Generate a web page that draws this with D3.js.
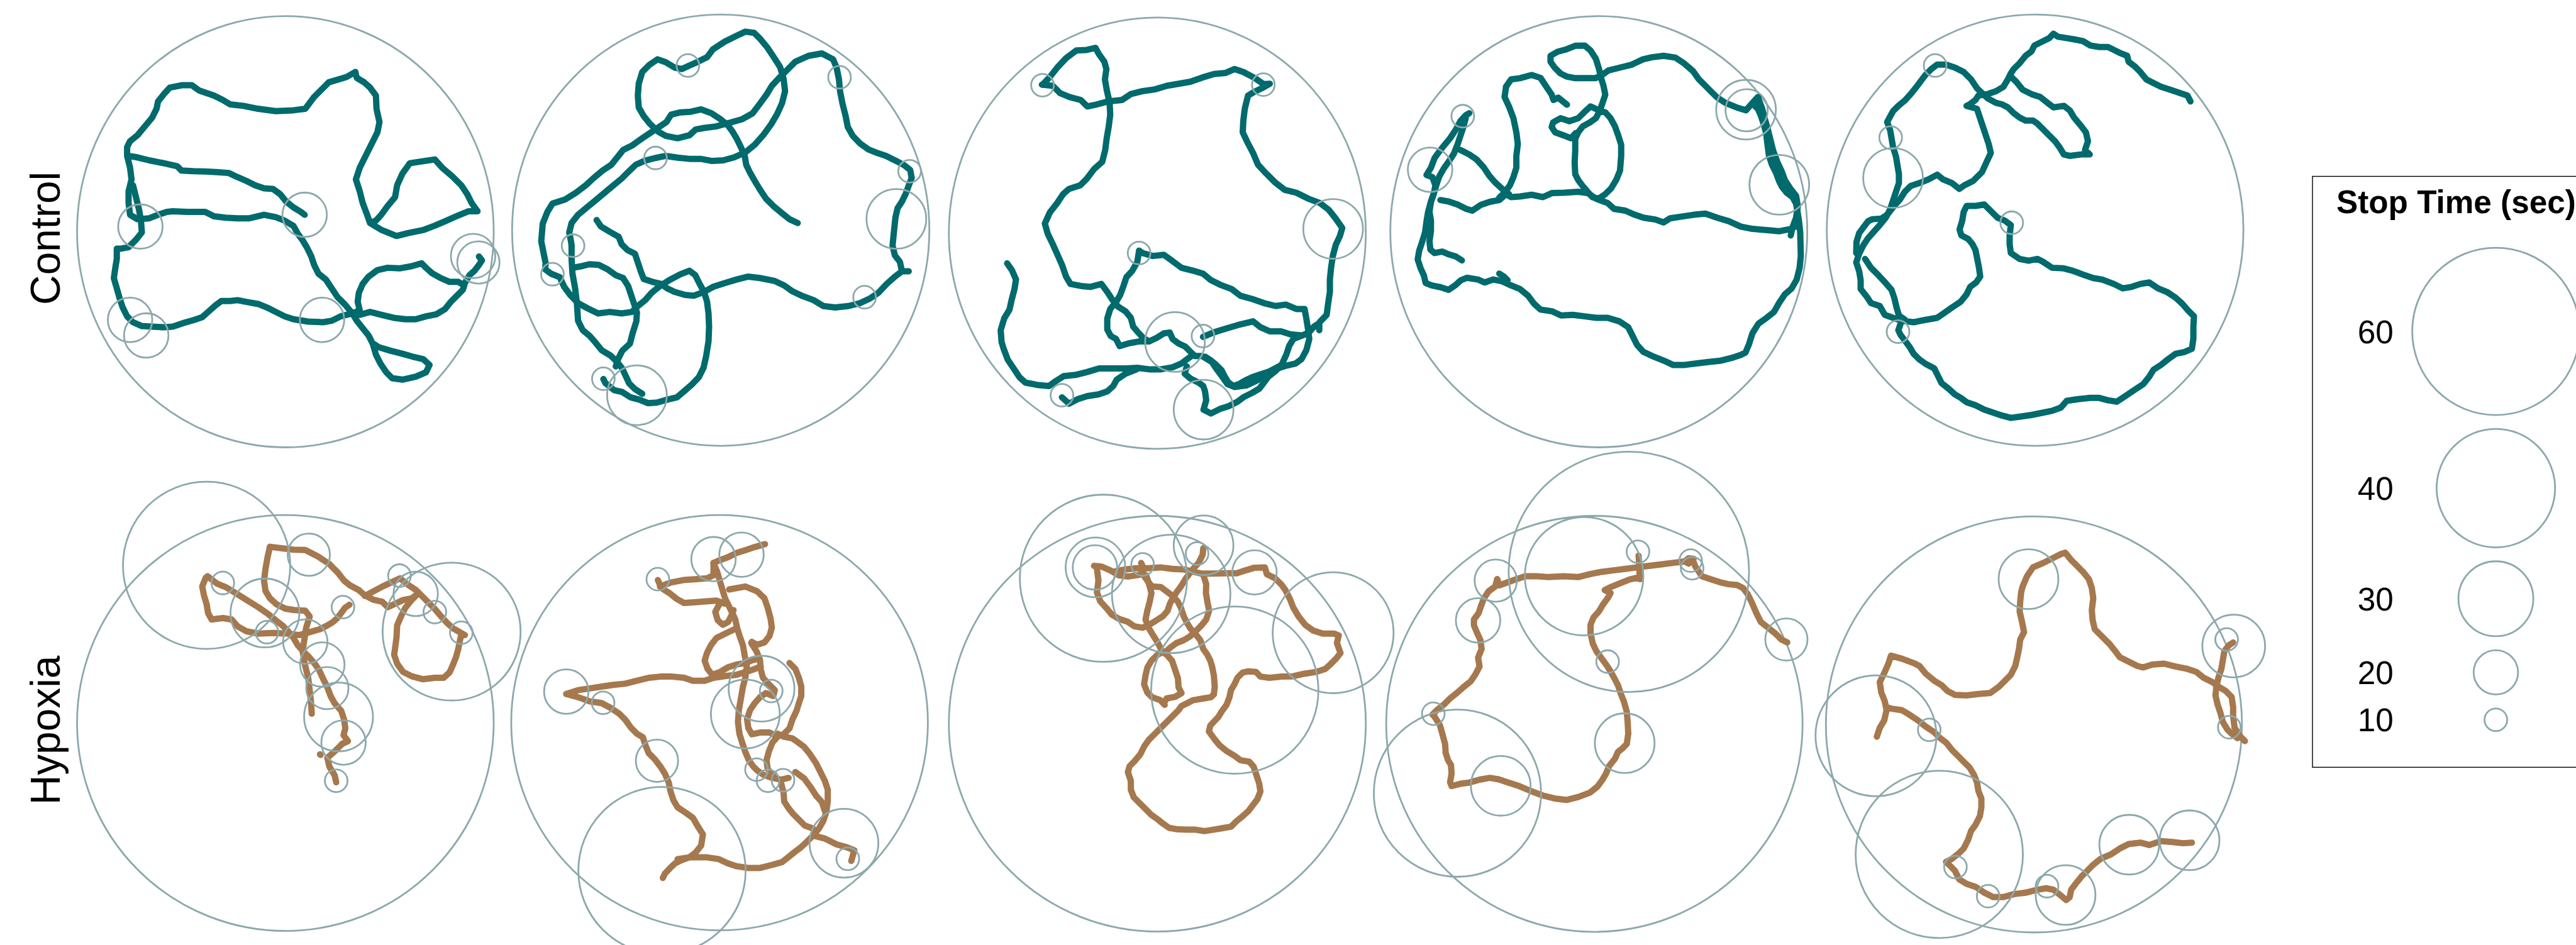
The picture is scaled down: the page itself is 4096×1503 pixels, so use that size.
<!DOCTYPE html>
<html>
<head>
<meta charset="utf-8">
<script src="https://cdn.jsdelivr.net/npm/d3@7"></script>
<style>
  html, body { margin: 0; padding: 0; background: #ffffff; }
  svg { display: block; }
</style>
</head>
<body>
<svg id="chart" width="4096" height="1503"></svg>
<script>
// ---------------------------------------------------------------------------
// Swimming tracks of ten fish in a circular arena, with stops marked as rings
// whose size encodes stop duration. Coordinates are tracking-frame pixels.
// Each track is a list of tracked runs (gaps = lost frames).
// ---------------------------------------------------------------------------

const groups = ["Control", "Hypoxia"];
const legendTitle = "Stop Time (sec)";
const legendBreaks = [60, 40, 30, 20, 10];

// arena outline per fish: [centre x, centre y, radius x, radius y]
const controlArenas = [
  [732.5, 757.5, 707.5, 732.5], [746.5, 752.5, 708.5, 732.5], [750, 762.5, 708, 732.5],
  [770, 757.5, 708, 732.5], [772.5, 752.5, 707.5, 732.5]
];
const hypoxiaArenas = [
  [732.5, 843.5, 707.5, 706.5], [742.5, 842.5, 707.5, 705.5], [750, 846, 708, 706],
  [755, 846.5, 707, 706.5], [768.5, 848.5, 706.5, 706.5]
];

// stops: [x, y, duration in seconds]
const controlStops = [
  [[240,740,20],[798,700,20],[1370,840,20],[1388,862,19],[205,1057,20],[260,1110,20],[857,1057,20]],
  [[635,193,10],[1150,233,10],[525,507,10],[1388,552,10],[1343,714,25],[245,805,10],[175,902,10],[1235,980,10],[348,1257,10],[462,1313,25]],
  [[360,260,10],[1110,258,10],[1347,748,25],[688,830,10],[810,1132,25],[905,1112,10],[426,1313,10],[907,1362,25]],
  [[308,365,10],[197,547,20],[1270,343,25],[1272,345,19],[1383,598,25]],
  [[433,193,10],[282,438,10],[290,575,25],[693,727,10],[307,1097,10]]
];
const hypoxiaStops = [
  [[465,308,60],[812,272,19],[520,368,10],[663,470,28],[670,535,10],[800,567,20],[858,645,20],[875,725,19],[913,823,28],[930,910,20],[905,1040,10],[928,450,10],[1120,343,10],[1175,405,20],[1240,467,10],[1330,537,10],[1297,533,48]],
  [[533,355,10],[722,287,20],[817,272,20],[222,737,20],[347,775,10],[530,972,19],[547,1345,60],[885,727,27],[830,813,28],[918,735,10],[868,1002,10],[907,1040,10],[958,1038,10],[1165,1252,28],[1178,1305,10]],
  [[567,352,60],[540,315,25],[538,315,20],[700,305,10],[797,405,40],[907,240,25],[885,268,10],[1080,332,20],[1013,732,60],[1347,537,41]],
  [[872,330,90],[720,345,40],[903,262,10],[1082,292,10],[1087,318,10],[420,360,19],[360,495,20],[1407,560,19],[800,635,10],[208,812,10],[290,1082,60],[437,1057,25],[858,912,25]],
  [[750,355,25],[1447,582,26],[1423,560,10],[1432,858,10],[232,887,41],[413,867,10],[447,1290,60],[502,1333,10],[613,1432,10],[813,1398,10],[876,1428,25],[1092,1257,25],[1297,1242,25]]
];

// ---- control tracks ----
const trackC1 = [
  [[970,215],[940,232],[880,250],[860,270],[830,300],[800,340],[760,345],[700,348],[640,340],[590,330],[545,325],[520,310],[490,295],[440,278],[415,260],[380,260],[340,268],[320,290],[300,315],[295,340],[280,370],[255,400],[230,430],[205,450],[195,470],[195,500],[205,540],[210,580],[200,620],[200,660],[205,700],[230,715],[270,712],[300,700],[330,690],[350,688],[400,690],[460,690],[490,705],[530,710],[570,712],[610,712],[640,705],[660,700],[700,708],[730,720],[760,738],[775,765],[790,785],[805,810],[820,840],[830,870],[845,900],[870,920],[890,950],[910,980],[935,1005],[960,1035]],
  [[200,500],[230,505],[270,515],[320,525],[365,535],[380,550],[420,552],[460,553],[500,555],[540,558],[570,572],[600,585],[630,600],[660,610],[690,612],[715,630],[735,655],[760,675],[785,690],[798,700]],
  [[215,600],[225,640],[235,680],[242,720],[245,760],[225,785],[200,810],[175,815],[160,815],[160,850],[155,880],[150,915],[160,950],[170,985],[180,1015],[195,1045],[215,1065],[245,1078],[280,1080],[320,1082],[350,1080],[385,1068],[420,1058],[450,1048],[470,1030],[495,1008],[515,993],[545,993],[570,990],[600,996],[640,1003],[670,1015],[700,1030],[730,1045],[760,1055],[810,1063],[860,1065],[890,1060],[920,1045],[960,1035]],
  [[960,1035],[975,1060],[995,1085],[1015,1110],[1030,1140],[1040,1175],[1055,1205],[1075,1235],[1095,1255],[1130,1260],[1175,1250],[1210,1235],[1222,1210],[1200,1190],[1165,1182],[1130,1172],[1090,1162],[1050,1150],[1035,1140]],
  [[960,1035],[985,1040],[1020,1030],[1060,1040],[1100,1050],[1140,1055],[1175,1055],[1210,1045],[1245,1038],[1275,1020],[1295,995],[1315,975],[1335,955],[1340,940],[1320,928],[1290,928],[1260,915],[1230,898],[1210,880],[1195,865],[1160,875],[1120,882],[1080,880],[1045,888],[1015,910],[995,935],[982,965],[978,995],[985,1025],[960,1035]],
  [[1340,935],[1358,905],[1375,890],[1390,870],[1400,855],[1390,842]],
  [[970,215],[975,235],[1000,250],[1020,268],[1040,295],[1042,340],[1052,385],[1045,420],[1025,460],[1005,500],[985,540],[972,580],[985,620],[995,660],[1010,700],[1020,728],[1060,752],[1110,772],[1150,762],[1200,752],[1240,737],[1280,720],[1320,702],[1355,688],[1385,688],[1365,660],[1350,630],[1330,600],[1300,570],[1265,540],[1240,512],[1200,518],[1155,525],[1130,560],[1112,600],[1105,640],[1080,670],[1058,700],[1040,720],[1020,728]]
];
const trackC2 = [
  [[1008,728],[980,715],[955,695],[925,670],[900,645],[880,615],[862,585],[845,555],[833,530],[828,500],[815,470],[800,440],[785,415],[770,395],[745,375],[715,355],[680,342],[645,350],[610,352],[578,360],[562,385],[540,400],[510,420],[480,440],[445,465],[415,480],[395,505],[375,530],[345,550],[315,575],[288,600],[255,625],[218,648],[175,662],[158,690],[142,730],[137,790],[145,830],[152,865],[150,885],[170,900],[200,912],[215,945],[235,972],[262,1000],[295,1018],[330,1035],[370,1030],[410,1035],[445,1030],[465,1010],[490,990],[512,965],[540,942],[572,922],[610,902],[640,890],[660,905],[675,935],[690,962],[720,945],[760,932],[800,920],[840,910],[880,915],[930,925],[962,940],[990,960],[1022,975],[1062,990],[1095,1010],[1135,1015],[1180,1010],[1220,1000],[1252,985],[1282,965],[1310,935],[1338,910],[1362,892],[1385,892]],
  [[1362,892],[1355,860],[1338,838],[1330,805],[1335,755],[1340,708],[1347,678],[1362,655],[1375,628],[1386,598],[1395,575],[1390,548],[1370,532],[1340,516],[1308,500],[1278,490],[1248,478],[1220,458],[1195,432],[1178,402],[1170,362],[1160,322],[1152,282],[1148,240],[1140,200],[1128,172],[1090,152],[1045,160],[1000,180],[970,210],[945,235],[920,262],[902,292],[880,322],[855,355],[820,375],[775,388],[730,400],[690,405],[662,410],[640,430],[600,440],[560,432],[535,418],[505,390],[485,365],[468,335],[465,295],[468,255],[480,215],[505,190],[532,172],[560,182],[590,200],[615,205],[640,193],[665,182],[700,165],[720,138],[760,112],[800,92],[830,78],[860,82],[880,102],[905,132],[925,162],[948,198],[960,238],[965,280],[955,320],[938,358],[918,392],[892,428],[862,462],[830,488],[792,505],[755,515],[715,517],[678,510],[640,510],[600,506],[560,500],[525,507],[490,516],[458,530],[435,552],[410,577],[380,602],[350,627],[320,652],[292,675],[262,700],[240,728],[232,760],[238,790],[240,805]],
  [[325,718],[340,740],[370,758],[400,775],[410,800],[430,820],[455,832],[465,862],[475,892],[485,918],[515,928],[545,935],[565,950],[590,962],[625,972],[655,975],[690,962],[700,995],[705,1035],[707,1080],[705,1130],[697,1180],[688,1220],[672,1252],[648,1277],[625,1297],[598,1320],[565,1328],[530,1338],[500,1340],[470,1328],[440,1320],[412,1302],[385,1296],[355,1272],[348,1258]],
  [[240,805],[240,850],[243,900],[252,950],[258,1000],[262,1060],[278,1092],[302,1112],[322,1135],[342,1160],[372,1178],[395,1200],[412,1222],[425,1250],[435,1272],[455,1292],[480,1308]],
  [[245,880],[272,875],[300,868],[332,870],[362,885],[390,905],[415,915],[432,942],[442,972],[452,1002],[462,1032],[460,1062],[448,1100],[438,1138],[412,1162],[398,1190],[390,1215]]
];
const trackC3 = [
  [[360,258],[385,232],[410,200],[440,168],[475,142],[510,140],[540,133],[552,155],[570,180],[577,205],[572,240],[578,275],[588,320],[590,360],[585,400],[578,440],[573,480],[563,520],[535,545],[510,578],[488,600],[450,612],[430,630],[410,660],[385,692],[368,730],[378,765],[395,800],[412,838],[427,872],[440,910],[455,935],[492,942],[522,945],[560,935],[580,962],[597,988],[617,1012],[642,1028],[660,1050],[668,1080],[685,1100],[702,1118],[722,1130],[748,1118],[772,1103],[792,1100],[802,1122],[822,1137],[845,1148],[862,1165],[878,1180],[902,1180],[935,1200],[952,1225],[972,1252],[988,1275],[1012,1285],[1052,1280],[1090,1262],[1115,1242],[1142,1226],[1172,1210],[1188,1175],[1198,1145],[1212,1122],[1242,1110],[1265,1100],[1282,1080],[1300,1068],[1300,1092]],
  [[358,258],[395,262],[420,287],[452,300],[490,310],[512,332],[545,325],[582,315],[630,310],[660,290],[700,280],[742,274],[782,262],[822,255],[862,248],[902,234],[942,222],[982,218],[1012,205],[1042,215],[1080,235],[1110,256],[1132,255],[1105,270],[1080,282],[1058,295],[1047,340],[1042,380],[1040,420],[1055,452],[1075,490],[1092,530],[1120,560],[1150,590],[1182,615],[1222,625],[1262,645],[1302,660],[1332,683],[1355,712],[1378,745],[1370,772],[1356,802],[1346,840],[1340,880],[1336,920],[1336,962],[1330,1002],[1325,1040],[1302,1064]],
  [[688,822],[700,830],[735,840],[772,836],[800,856],[832,880],[872,890],[905,900],[932,922],[962,937],[1002,952],[1032,975],[1072,986],[1112,1000],[1152,1010],[1186,1005],[1222,1020],[1250,1020],[1256,1052],[1262,1090],[1266,1122],[1256,1160],[1240,1190],[1220,1205],[1190,1212],[1158,1222],[1128,1233],[1098,1243],[1072,1252],[1050,1262],[1028,1275],[1008,1282],[990,1268],[978,1248],[968,1228],[948,1208],[928,1192],[912,1182]],
  [[688,822],[682,860],[665,890],[645,912],[635,942],[624,972],[610,996],[590,1020],[580,1052],[580,1090],[592,1112],[610,1122],[622,1146],[652,1137],[690,1130],[722,1130]],
  [[905,1115],[940,1100],[982,1087],[1022,1075],[1075,1062],[1100,1082],[1132,1096],[1170,1096],[1202,1106],[1240,1110]],
  [[240,865],[256,888],[270,920],[265,952],[255,990],[248,1022],[230,1052],[218,1092],[221,1132],[228,1155],[242,1192],[262,1222],[282,1252],[302,1270],[342,1278],[382,1282],[405,1265],[432,1248],[472,1244],[512,1234],[552,1222],[600,1222],[642,1222],[682,1220],[722,1225],[762,1225],[802,1218],[832,1205],[852,1190],[872,1175]],
  [[426,1320],[450,1342],[480,1326],[512,1316],[550,1310],[580,1300],[600,1282],[612,1260],[642,1240],[680,1225]],
  [[907,1362],[932,1375],[962,1360],[992,1350],[1022,1335],[1042,1320],[1072,1305],[1097,1290],[1112,1270],[1127,1250],[1152,1230],[1172,1210]],
  [[907,1362],[916,1330],[912,1300],[906,1282],[890,1270],[862,1256],[843,1240],[850,1215]]
];
const trackC4 = [
  [[305,855],[285,842],[262,835],[238,825],[212,830],[198,818],[195,790],[200,755],[200,720],[195,690],[200,655],[210,628],[215,600],[205,572],[185,565],[200,540],[212,508],[226,488],[242,468],[265,440],[285,410],[300,382],[318,362],[330,355]],
  [[318,372],[310,402],[300,432],[290,462],[278,492],[262,517],[244,542],[228,570],[218,600],[208,632],[198,662],[190,692],[185,722],[180,760],[170,792],[160,822],[155,852],[165,882],[176,906],[182,932],[202,940],[232,946],[260,955],[282,940],[302,922],[322,914],[360,920],[382,930],[412,920],[442,926],[472,940],[502,952],[530,975],[550,1002],[572,1022],[612,1028],[642,1042],[682,1040],[722,1045],[762,1050],[800,1050],[840,1062],[870,1082],[885,1112],[900,1142],[922,1166],[952,1180],[992,1196],[1022,1210],[1062,1210],[1102,1205],[1142,1200],[1182,1196],[1222,1186],[1252,1176],[1268,1168],[1280,1140],[1292,1102],[1312,1070],[1340,1050],[1365,1030],[1382,1000],[1402,970],[1425,950],[1442,920],[1452,880],[1456,840],[1455,800],[1454,760],[1450,722],[1445,690],[1440,662],[1428,640],[1408,625],[1392,605],[1382,585],[1372,558],[1358,530],[1348,500],[1343,462],[1338,422],[1330,392],[1320,362],[1310,340],[1300,330],[1312,302]],
  [[1312,305],[1325,340],[1333,372],[1342,402],[1352,442],[1362,482],[1376,520],[1390,550],[1402,582],[1420,610],[1440,636],[1446,670],[1440,710],[1427,745],[1422,770]],
  [[232,650],[260,655],[290,665],[320,680],[340,686],[370,666],[400,656],[432,650],[455,630],[472,640],[502,638],[542,632],[580,640],[612,626],[652,625],[700,622],[732,626],[762,646],[800,660],[822,680],[860,686],[892,700],[922,710],[962,716],[990,726],[1012,712],[1052,706],[1092,700],[1132,696],[1172,710],[1212,722],[1252,740],[1292,748],[1342,752],[1382,756],[1422,748],[1442,738]],
  [[1310,300],[1290,322],[1270,345],[1240,336],[1200,320],[1170,300],[1150,280],[1130,260],[1110,240],[1090,212],[1060,186],[1030,166],[990,160],[950,165],[920,172],[882,190],[842,200],[802,210],[780,226],[758,236],[720,236],[690,236],[660,230],[640,220],[620,200],[606,180],[606,160],[630,146],[660,138],[690,126],[722,125],[742,142],[760,170],[770,202],[778,236],[786,262],[792,292],[782,322],[772,350],[760,372],[740,386],[715,400],[700,420],[690,442],[690,482],[688,522],[690,562],[700,582],[715,602],[732,622],[748,640],[770,645],[792,630],[812,610],[830,580],[842,550],[846,500],[846,462],[836,430],[825,400],[810,372],[792,352],[770,345],[742,332],[720,352],[700,372],[670,382],[640,372],[615,386],[610,402],[622,420],[650,430],[675,440],[692,422]],
  [[455,265],[472,240],[502,236],[542,225],[572,235],[592,265],[610,292],[616,310],[632,302],[662,326]],
  [[455,265],[450,300],[465,332],[480,372],[490,420],[495,460],[490,500],[490,540],[480,572],[468,600],[450,625],[432,642]],
  [[300,480],[330,495],[355,512],[380,540],[400,570],[420,592],[445,615],[465,630]],
  [[432,900],[448,910],[460,922]]
];
const trackC5 = [
  [[1300,315],[1290,295],[1260,285],[1230,275],[1200,265],[1170,250],[1150,240],[1130,215],[1110,195],[1090,180],[1085,160],[1060,150],[1040,140],[1020,130],[990,130],[960,125],[935,110],[910,105],[880,100],[850,95],[835,85],[820,100],[800,110],[770,125],[760,145],[740,160],[720,185],[700,205],[690,220],[680,240],[665,265],[640,280],[610,290],[580,295],[570,310],[550,325],[540,330]],
  [[690,230],[710,250],[730,275],[760,290],[790,300],[815,320],[835,335],[870,330],[890,345],[905,370],[930,400],[945,420],[952,450],[942,480],[958,495],[930,495],[890,500],[870,495],[855,470],[840,450],[820,430],[800,410],[780,390],[765,380],[740,380],[720,370],[700,355],[680,335],[660,325],[640,320],[612,305],[596,290],[575,270],[555,240],[530,215],[500,200],[470,190],[440,190],[420,205],[400,225],[385,245],[370,265],[350,290],[330,312],[308,330],[290,348],[278,370],[270,385],[280,412],[285,440],[290,470],[300,502],[305,532],[310,562],[310,592],[300,622],[290,652],[280,682],[265,710],[245,735],[225,757],[205,780],[190,802],[175,832],[165,862],[175,892],[180,922],[180,952],[200,977],[215,1000],[245,1010],[262,1040],[290,1050],[320,1060],[360,1065],[400,1057],[440,1050],[462,1035],[490,1015],[520,995],[540,970],[552,945],[572,930],[586,910],[582,880],[576,850],[570,820],[560,800],[545,782],[522,770],[516,750],[525,720],[530,690],[540,670],[570,670],[600,665],[625,690],[645,710],[670,720],[690,735],[686,770],[686,800],[690,830],[720,850],[750,856],[780,850],[800,860],[830,880],[870,882],[900,890],[940,905],[970,915],[1000,920],[1040,935],[1070,950],[1100,945],[1130,935],[1160,930],[1190,950],[1220,962],[1250,982],[1272,1002],[1292,1025],[1312,1045],[1310,1080],[1310,1120],[1305,1155],[1280,1166],[1250,1172],[1225,1190],[1200,1210],[1175,1226],[1160,1250],[1140,1275],[1110,1295],[1080,1315],[1050,1335],[1020,1330],[990,1322],[960,1322],[920,1326],[880,1332],[860,1355],[830,1366],[800,1372],[760,1380],[720,1386],[690,1390],[660,1382],[630,1372],[600,1362],[570,1347],[540,1337],[520,1322],[500,1310],[480,1292],[455,1272],[440,1242],[430,1222],[400,1206],[380,1192],[360,1172],[345,1147],[330,1127],[315,1107],[308,1092],[315,1072]],
  [[540,330],[575,340],[585,370],[595,400],[605,430],[615,460],[622,490],[608,520],[592,555],[562,585],[532,600],[515,612],[490,592],[460,580],[440,564],[410,580],[380,592],[350,602],[330,622],[312,650],[292,672],[270,700],[250,713],[220,715],[205,722],[190,742],[175,762],[166,792],[165,830]],
  [[195,850],[215,880],[240,905],[265,932],[285,955],[295,985],[302,1015],[310,1042],[330,1056]]
];

// ---- hypoxia tracks ----
const trackH1 = [
  [[468,345],[500,370],[530,382],[560,400],[600,425],[640,450],[672,472],[700,495],[722,512],[742,532],[760,555],[775,580],[795,602],[815,622],[832,642],[846,662],[860,692],[875,722],[886,752],[900,777],[922,802],[932,832],[936,862],[930,885],[945,905],[925,915]],
  [[462,350],[450,380],[456,410],[465,440],[470,470],[482,492],[520,487],[550,492],[570,515],[600,532],[640,540],[690,538],[740,540],[780,545],[815,535],[850,525],[872,514],[892,502],[908,488],[922,470],[935,452],[950,442]],
  [[680,245],[672,280],[665,320],[660,360],[665,395],[680,420],[702,440],[732,455],[762,460],[800,462],[815,482],[803,520],[797,560],[791,600],[800,650],[810,690],[816,740],[820,780],[822,812]],
  [[680,245],[720,250],[760,255],[800,256],[840,276],[880,302],[910,332],[932,360],[952,376],[982,392],[1002,410],[1032,425],[1062,432],[1080,450],[1102,440],[1132,426],[1162,420],[1185,402]],
  [[1002,412],[1032,396],[1062,380],[1092,366],[1122,352],[1146,372],[1176,392],[1196,412],[1216,432],[1240,456],[1260,480],[1280,502],[1302,522],[1330,538],[1342,545]],
  [[1182,405],[1160,427],[1140,452],[1125,482],[1112,512],[1110,552],[1105,590],[1102,612],[1112,642],[1132,670],[1162,685],[1200,695],[1240,690],[1270,690],[1290,672],[1302,645],[1312,620],[1320,590],[1326,560],[1330,545]],
  [[925,915],[900,940],[875,962],[882,992],[900,1022],[905,1045]],
  [[850,950],[852,952]]
];
const trackH2 = [
  [[533,358],[545,385],[572,402],[597,422],[622,436],[662,433],[702,430],[732,428],[760,438]],
  [[540,380],[578,366],[620,358],[660,355],[700,352],[722,342],[722,300],[745,290],[772,280],[800,266],[832,256],[862,246],[897,236]],
  [[722,300],[735,332],[745,366],[755,400],[762,422],[772,442],[786,470],[796,492],[802,520],[810,546],[822,580],[828,615],[835,650],[830,690],[822,720],[815,760],[808,800],[805,840],[810,880],[820,912],[830,942],[842,970],[856,990],[872,1006],[892,1020],[922,1030],[952,1036],[977,1030]],
  [[742,440],[728,466],[736,494],[754,510],[772,500],[782,480],[790,460]],
  [[775,390],[830,380],[870,396],[895,420],[906,452],[916,490],[920,520],[912,548],[895,570],[870,578],[852,568]],
  [[800,522],[762,540],[732,555],[714,578],[700,605],[692,632],[702,660],[718,680],[745,670],[770,655],[800,645],[830,640],[855,630],[878,625]],
  [[222,745],[262,732],[302,726],[342,720],[382,714],[422,710],[462,700],[502,690],[542,686],[582,686],[622,690],[652,700],[692,700],[722,690],[762,684],[800,680],[832,670],[862,660],[882,652]],
  [[222,745],[262,756],[302,770],[342,776],[372,792],[402,812],[422,832],[442,860],[462,880],[482,892],[492,922],[502,946],[522,966],[542,992],[557,1016],[570,1046],[576,1076],[586,1106],[600,1130],[630,1150],[652,1166],[667,1192],[686,1222],[680,1260],[660,1285],[640,1300],[612,1310],[592,1320],[575,1336],[557,1355],[550,1370]],
  [[600,1306],[640,1300],[700,1300],[740,1306],[770,1320],[800,1330],[840,1336],[880,1336],[920,1326],[955,1316],[980,1296],[1000,1280],[1020,1265],[1040,1246],[1060,1226],[1080,1202],[1095,1176],[1105,1146],[1110,1110],[1110,1070],[1100,1040],[1085,1010],[1070,980],[1050,950],[1030,925],[1010,910],[990,896],[960,890],[940,880]],
  [[1060,1226],[1100,1236],[1140,1256],[1175,1266],[1200,1276],[1190,1312]],
  [[850,572],[868,600],[880,630],[882,660],[890,690],[910,712],[930,732],[925,752],[900,742],[880,756],[862,776],[846,800],[836,830],[840,860],[852,882],[880,876],[912,876],[940,890],[922,910],[910,940],[902,970],[906,1000],[930,1030]],
  [[980,640],[1000,660],[1012,690],[1020,720],[1020,752],[1010,782],[1004,802],[990,832],[980,862],[960,882]],
  [[1000,1010],[1030,1032],[1052,1062],[1070,1090],[1090,1112],[1100,1142]],
  [[952,1050],[960,1080],[962,1110],[976,1132],[992,1152],[1012,1172],[1032,1192],[1060,1202]]
];
const trackH3 = [
  [[535,310],[560,312],[590,325],[620,342],[652,346],[690,340],[705,322],[695,300]],
  [[600,330],[640,322],[680,318],[720,318],[760,315],[800,320],[840,322],[872,330],[900,336],[940,336],[980,335],[1020,335],[1050,325],[1080,316],[1115,315],[1122,338],[1150,352],[1170,372],[1185,392],[1200,422],[1212,452],[1230,482],[1252,510],[1280,530],[1312,540],[1350,540],[1366,546],[1360,572],[1372,606],[1356,626],[1336,646],[1320,660],[1290,670],[1250,676],[1210,685],[1170,686],[1130,690],[1100,686],[1085,670],[1060,668],[1040,672],[1022,690],[1012,712],[1000,732],[995,756],[985,782],[970,802],[958,822],[944,837],[930,852],[925,872],[935,886],[947,902],[962,920],[987,940],[1012,955],[1032,970],[1062,975],[1077,992],[1087,1022],[1096,1050],[1100,1076],[1090,1102],[1075,1122],[1060,1142],[1040,1160],[1020,1176],[1000,1196],[970,1201],[940,1206],[910,1211],[880,1206],[850,1206],[820,1205],[790,1200],[770,1186],[750,1170],[730,1156],[710,1136],[690,1116],[670,1096],[660,1070],[660,1040],[650,1010],[656,990],[672,974],[692,950],[706,922],[722,900],[742,880],[762,860],[782,840],[802,820],[822,800],[832,786],[852,776],[872,766],[902,761],[932,756],[942,746]],
  [[942,746],[945,720],[942,682],[936,652],[930,632],[920,612],[906,592],[896,562],[880,542],[862,522],[850,502],[840,482],[830,452],[820,432],[802,412],[782,397],[762,382],[732,380],[716,360],[702,340]],
  [[545,320],[550,360],[545,400],[556,430],[576,452],[596,476],[620,490],[650,500],[672,515],[700,520],[722,510],[745,496],[770,480],[785,462],[792,440],[802,420],[815,400],[830,380],[847,352],[870,322],[890,300],[904,272],[906,250]],
  [[712,342],[722,372],[730,402],[724,432],[716,462],[710,492],[720,520],[736,546],[752,572],[766,600],[782,612],[800,632],[810,662],[820,692],[822,722],[832,742],[810,755],[782,760],[772,776]],
  [[770,602],[750,612],[730,632],[716,656],[710,682],[705,712],[716,740],[732,756],[760,766],[775,782]],
  [[906,340],[916,372],[915,402],[920,432],[926,462],[916,492],[900,512],[880,532],[860,550],[840,562],[815,572],[796,586],[780,600]]
];
const trackH4 = [
  [[425,355],[432,376],[460,366],[490,355],[520,345],[560,345],[600,348],[650,345],[700,348],[740,338],[780,330],[820,325],[860,320],[900,315],[940,310],[980,305],[1020,300],[1060,295],[1090,292],[1098,312],[1120,345],[1150,355],[1180,365],[1210,372],[1240,375],[1260,385],[1275,405],[1290,435],[1305,470],[1320,500],[1345,520],[1370,540],[1390,560],[1410,570]],
  [[425,355],[418,380],[396,396],[380,420],[370,446],[362,470],[346,492],[346,512],[356,536],[368,562],[372,592],[360,622],[365,652],[350,680],[335,702],[310,722],[290,740],[265,760],[245,780],[220,800],[205,815],[212,822],[230,850],[240,885],[248,915],[250,945],[258,970],[268,986],[270,1015],[265,1045],[270,1058],[300,1050],[330,1046],[365,1036],[400,1030],[430,1035],[460,1045],[500,1058],[540,1075],[580,1090],[620,1100],[660,1105],[700,1095],[740,1080],[765,1060],[780,1040],[795,1015],[805,990],[825,965],[835,942],[850,930],[865,915],[870,880],[868,840],[865,805],[855,770],[845,745],[835,715],[822,690],[808,665],[795,645],[780,625],[762,600],[750,575],[742,540],[742,510],[752,485],[770,465],[785,440],[800,420],[810,402],[790,392],[815,380],[845,368],[875,356],[900,350],[910,355],[908,330],[907,300],[905,275]],
  [[1090,292],[1075,302],[1062,295],[1075,284],[1092,286]]
];
const trackH5 = [
  [[235,890],[245,860],[260,835],[268,800],[262,770],[250,740],[245,705],[262,670],[275,640],[283,615],[320,625],[360,640],[380,650],[400,675],[430,700],[455,715],[475,735],[500,748],[540,750],[580,745],[620,742],[650,720],[670,700],[690,680],[705,650],[712,620],[718,590],[722,560],[735,535],[728,500],[720,465],[722,430],[725,400],[730,380],[745,345],[765,315],[800,300],[830,285],[860,270],[875,265],[895,290],[915,310],[935,330],[955,355],[965,385],[970,420],[965,460],[968,495],[975,525],[1000,550],[1025,575],[1045,600],[1060,620],[1090,635],[1120,650],[1140,655],[1170,645],[1210,642],[1250,652],[1290,660],[1320,670],[1345,690],[1375,705],[1395,720],[1420,735],[1440,755],[1445,790],[1445,820],[1450,860],[1470,890],[1485,905]],
  [[1445,570],[1430,580],[1415,600],[1410,630],[1405,660],[1395,690],[1388,720],[1385,750],[1392,780],[1402,810],[1410,840],[1425,865],[1440,880],[1460,895]],
  [[268,790],[285,795],[320,800],[345,815],[375,835],[400,855],[430,875],[450,895],[470,910],[490,935],[510,955],[530,975],[550,995],[565,1020],[575,1045],[580,1075],[590,1100],[590,1130],[585,1160],[570,1190],[555,1210],[545,1240],[530,1270],[515,1285],[490,1305],[470,1315],[480,1325],[500,1345],[515,1375],[540,1390],[570,1400],[600,1420],[630,1435],[665,1435],[700,1425],[740,1420],[780,1410],[810,1405],[835,1410],[860,1430],[878,1445],[890,1435],[895,1410],[910,1390],[930,1365],[950,1345],[970,1325],[995,1305],[1030,1290],[1060,1270],[1090,1255],[1130,1250],[1160,1258],[1200,1245],[1240,1248],[1275,1252],[1305,1250]]
];

const controlTracks = [trackC1, trackC2, trackC3, trackC4, trackC5];
const hypoxiaTracks = [trackH1, trackH2, trackH3, trackH4, trackH5];

// ---------------------------------------------------------------------------
// Layout
// ---------------------------------------------------------------------------
const W = 4096, H = 1503;
const S = W / 5914;                 // design units -> screen px
const FRAME_UNITS = 1568;           // tracking frame extent (video px)
const FRAME_SPAN = 1060;            // design units covered by one frame
const colLeft = [160, 1150, 2150, 3150, 4150];
const rowTop = [20, 1090];

const TRACK_COLORS = ["#006A6C", "#A5784E"];
const RING_COLOR = "#8CA8AB";
const FONT = "'Liberation Sans', Arial, Helvetica, sans-serif";

// ring radius (screen px) for a stop duration (sec), calibrated on the key sizes
const size = d3.scaleLinear()
  .domain([10, 20, 30, 40, 60])
  .range([26, 51, 86, 136, 192].map(v => v * S));

const svg = d3.select("#chart");
svg.append("rect").attr("width", W).attr("height", H).attr("fill", "#ffffff");

const line = d3.line().defined(d => d != null).curve(d3.curveLinear);

const rows = [
  { arenas: controlArenas, tracks: controlTracks, stops: controlStops },
  { arenas: hypoxiaArenas, tracks: hypoxiaTracks, stops: hypoxiaStops }
];

rows.forEach((row, r) => {
  row.tracks.forEach((track, c) => {
    const x = d3.scaleLinear().domain([0, FRAME_UNITS]).range([colLeft[c] * S, (colLeft[c] + FRAME_SPAN) * S]);
    const y = d3.scaleLinear().domain([0, FRAME_UNITS]).range([rowTop[r] * S, (rowTop[r] + FRAME_SPAN) * S]);
    const g = svg.append("g").attr("class", `panel ${groups[r]}-${c + 1}`);

    // arena wall
    const [acx, acy, arx, ary] = row.arenas[c];
    g.append("ellipse")
      .attr("cx", x(acx)).attr("cy", y(acy))
      .attr("rx", x(acx + arx) - x(acx)).attr("ry", y(acy + ary) - y(acy))
      .attr("fill", "none").attr("stroke", RING_COLOR).attr("stroke-width", 2.8);

    // swimming path
    g.selectAll("path.run").data(track).join("path")
      .attr("class", "run")
      .attr("d", run => line.x(d => x(d[0])).y(d => y(d[1]))(run))
      .attr("fill", "none")
      .attr("stroke", TRACK_COLORS[r])
      .attr("stroke-width", 10)
      .attr("stroke-linecap", "round")
      .attr("stroke-linejoin", "round");

    // stops
    g.selectAll("circle.stop").data(row.stops[c]).join("circle")
      .attr("class", "stop")
      .attr("cx", d => x(d[0])).attr("cy", d => y(d[1]))
      .attr("r", d => size(d[2]))
      .attr("fill", "none").attr("stroke", RING_COLOR).attr("stroke-width", 2.8);
  });
});

// row labels
const rowLabelY = [547, 1677];
groups.forEach((name, r) => {
  svg.append("text")
    .attr("transform", `translate(${137 * S},${rowLabelY[r] * S}) rotate(-90)`)
    .attr("text-anchor", "middle")
    .attr("font-family", FONT)
    .attr("font-size", 95 * S)
    .attr("fill", "#000")
    .text(name);
});

// ---------------------------------------------------------------------------
// Legend
// ---------------------------------------------------------------------------
const legend = svg.append("g").attr("class", "legend");
const LX = 5309 * S, LY = 405 * S;
legend.append("rect")
  .attr("x", LX).attr("y", LY)
  .attr("width", W - LX + 20).attr("height", (1762 - 405) * S)
  .attr("fill", "#fff").attr("stroke", "#000").attr("stroke-width", 1.4);

legend.append("text")
  .attr("x", 5364 * S).attr("y", 489 * S)
  .attr("font-family", FONT).attr("font-weight", "bold")
  .attr("font-size", 74 * S).attr("fill", "#000")
  .text(legendTitle);

// keys stacked from the top of the key area
const keyGap = 32 * S;
let keyTop = 569 * S;
const keyX = 5730 * S;
legendBreaks.forEach(v => {
  const rr = size(v);
  const cy = keyTop + rr;
  legend.append("circle")
    .attr("cx", keyX).attr("cy", cy).attr("r", rr)
    .attr("fill", "none").attr("stroke", RING_COLOR).attr("stroke-width", 2.8);
  legend.append("text")
    .attr("x", 5495 * S).attr("y", cy + 0.36 * 74 * S)
    .attr("text-anchor", "end")
    .attr("font-family", FONT).attr("font-size", 74 * S).attr("fill", "#000")
    .text(v);
  keyTop = cy + rr + keyGap;
});
</script>
</body>
</html>
